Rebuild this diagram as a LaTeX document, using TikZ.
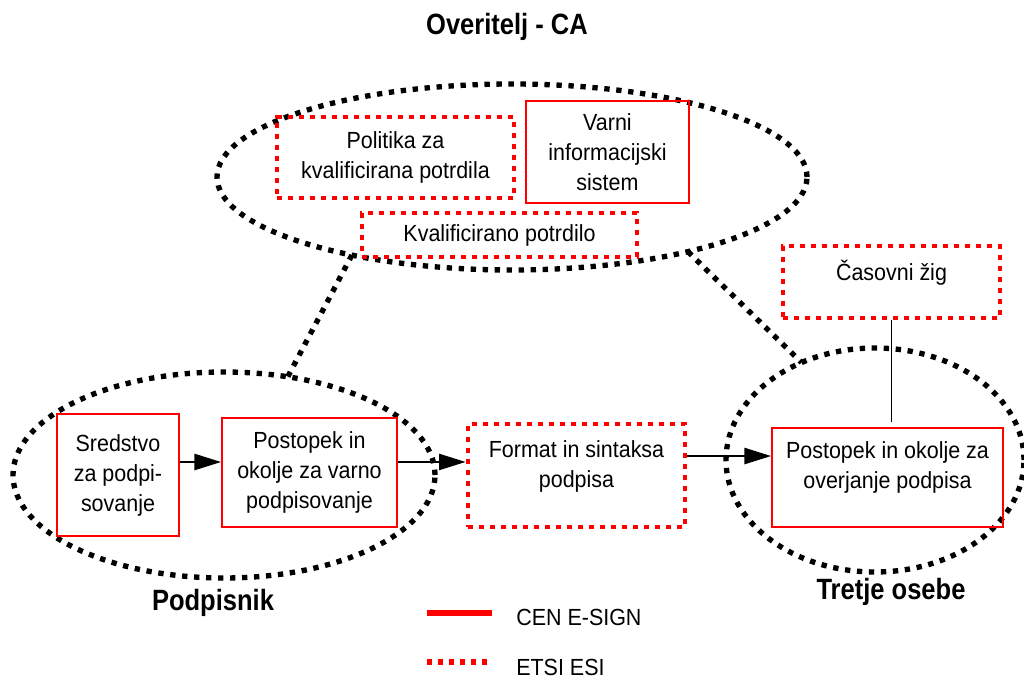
\documentclass[tikz,border=0pt]{standalone}
\usepackage{fontspec}
\setmainfont{Liberation Sans}[FakeStretch=0.92]
\newfontfamily\headfont{Liberation Sans}[FakeStretch=0.87]
\usetikzlibrary{arrows.meta, shapes.geometric, positioning}

\begin{document}
\begin{tikzpicture}[x=0.75pt, y=-0.75pt, >={Triangle[length=20pt, width=12pt]},
    every node/.style={font=\fontsize{17.5}{22.5}\selectfont, align=center},
    cenbox/.style={draw=red, line width=1.3pt, inner sep=0pt},
    etsibox/.style={draw=red, line width=3.5pt, dash pattern=on 4pt off 4.25pt, inner sep=0pt},
    grp/.style={draw, ellipse, line width=4pt, dash pattern=on 4pt off 5pt, inner sep=0pt, outer sep=0pt},
    grpline/.style={line width=4pt, dash pattern=on 4pt off 5pt},
    flow/.style={->, line width=1.8pt},
    title/.style={font=\headfont\bfseries\fontsize{22}{26}\selectfont}]
        \useasboundingbox (0,0) rectangle (1024,680);

        % Overitelj - CA
        \node[title] (catitle) at (507,27) {Overitelj - CA};
        \node[grp, minimum width=442.5pt, minimum height=139.5pt] (ca) at (512,177) {};
        \node[etsibox, minimum width=177.75pt, minimum height=60.75pt] (policy) at (395.5,157.5) {Politika za\\kvalificirana potrdila};
        \node[cenbox, minimum width=122.25pt, minimum height=76.5pt] (secsys) at (607.5,152) {Varni\\informacijski\\sistem};
        \node[etsibox, minimum width=206.25pt, minimum height=33pt] (qcert) at (499.5,235) {Kvalificirano potrdilo};

        % Podpisnik
        \node[grp, minimum width=316.5pt, minimum height=154.5pt] (signer) at (224,475) {};
        \node[cenbox, minimum width=91.5pt, minimum height=91.5pt] (device) at (118,475) {Sredstvo\\za podpi-\\sovanje};
        \node[cenbox, minimum width=131.25pt, minimum height=81.75pt] (signenv) at (309.5,472.5) {Postopek in\\okolje za varno\\podpisovanje};
        \node[title] (signertitle) at (213,603) {Podpisnik};

        % Format
        \node[etsibox, minimum width=162.75pt, minimum height=77.25pt] (format) at (576.5,475.5) {};
        \node (formattext) at (576.5,466) {Format in sintaksa\\podpisa};

        % Tretje osebe
        \node[grp, minimum width=223.5pt, minimum height=168pt] (third) at (875,460) {};
        \node[etsibox, minimum width=162.75pt, minimum height=54pt] (tsa) at (891.5,282) {};
        \node (tsatext) at (891.5,273) {Časovni žig};
        \node[cenbox, minimum width=173.25pt, minimum height=74.25pt] (verify) at (887.5,477.5) {};
        \node (verifytext) at (887.5,467) {Postopek in okolje za\\overjanje podpisa};
        \node[title] (thirdtitle) at (891,592) {Tretje osebe};

        % Edges
        \draw[grpline] (ca.206) -- (signer.57);
        \draw[grpline] (ca.337) -- (third.127);
        \draw[flow] ([yshift=9.75pt]device.east) -- ([yshift=9.75pt]device.east -| signenv.west);
        \draw[flow] ([yshift=7.9pt]signenv.east) -- ([yshift=7.9pt]signenv.east -| format.west);
        \draw[flow] ([yshift=14.6pt]format.east) -- ([yshift=14.6pt]format.east -| verify.west);
        \draw[line width=1.1pt] (tsa.south) -- ([yshift=4pt]tsa.south |- verify.north);

        % Legend
        \draw[red, line width=4.5pt] (427,613) -- (492,613);
        \node[anchor=west, inner sep=0pt] (cenlabel) at (516,617) {CEN E-SIGN};
        \draw[red, line width=4pt, dash pattern=on 4pt off 4.25pt] (427,662) -- (492,662);
        \node[anchor=west, inner sep=0pt] (etsilabel) at (516,667) {ETSI ESI};
    \end{tikzpicture}
\end{document}
